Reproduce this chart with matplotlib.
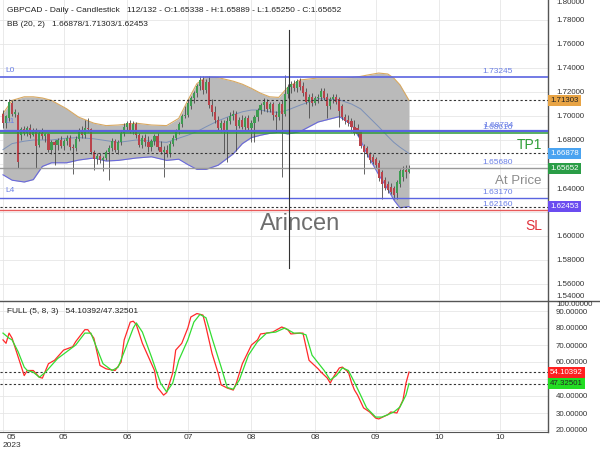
import numpy as np
import matplotlib
matplotlib.use("Agg")
import matplotlib.pyplot as plt
import matplotlib.ticker as mticker
from matplotlib.lines import Line2D

plt.rcParams['font.family'] = ['Liberation Sans', 'DejaVu Sans']

# ----------------------------- DATA -----------------------------------
opens = [1.702, 1.694, 1.698, 1.711, 1.702, 1.701, 1.684, 1.689, 1.686, 1.690,
         1.684, 1.688, 1.676, 1.686, 1.683, 1.685, 1.672, 1.678, 1.676, 1.680,
         1.675, 1.679, 1.682, 1.674, 1.673, 1.681, 1.688, 1.684, 1.690, 1.689,
         1.670, 1.664, 1.667, 1.663, 1.665, 1.670, 1.673, 1.679, 1.672, 1.678,
         1.686, 1.691, 1.694, 1.688, 1.693, 1.684, 1.676, 1.682, 1.678, 1.674,
         1.679, 1.683, 1.674, 1.670, 1.672, 1.668, 1.677, 1.682, 1.687, 1.693,
         1.700, 1.701, 1.708, 1.715, 1.719, 1.725, 1.730, 1.722, 1.728, 1.709,
         1.703, 1.697, 1.690, 1.694, 1.688, 1.696, 1.700, 1.702, 1.692, 1.697,
         1.691, 1.698, 1.690, 1.694, 1.699, 1.705, 1.709, 1.712, 1.706, 1.710,
         1.701, 1.699, 1.710, 1.702, 1.718, 1.724, 1.727, 1.723, 1.729, 1.725,
         1.720, 1.712, 1.716, 1.711, 1.715, 1.716, 1.721, 1.716, 1.708, 1.714,
         1.716, 1.714, 1.708, 1.699, 1.697, 1.696, 1.691, 1.690, 1.687, 1.675,
         1.673, 1.668, 1.666, 1.664, 1.661, 1.653, 1.647, 1.643, 1.641, 1.640,
         1.636, 1.643, 1.649, 1.655, 1.65338]
highs = [1.705, 1.701, 1.714, 1.713, 1.706, 1.703, 1.691, 1.692, 1.692, 1.693,
         1.690, 1.690, 1.688, 1.690, 1.686, 1.686, 1.680, 1.680, 1.682, 1.683,
         1.681, 1.684, 1.684, 1.677, 1.683, 1.690, 1.692, 1.697, 1.698, 1.690,
         1.672, 1.669, 1.669, 1.667, 1.672, 1.676, 1.682, 1.681, 1.680, 1.688,
         1.694, 1.696, 1.697, 1.696, 1.695, 1.686, 1.684, 1.685, 1.683, 1.681,
         1.685, 1.686, 1.679, 1.675, 1.676, 1.679, 1.684, 1.689, 1.695, 1.702,
         1.708, 1.714, 1.717, 1.721, 1.727, 1.733, 1.733, 1.731, 1.733, 1.714,
         1.708, 1.700, 1.697, 1.697, 1.699, 1.703, 1.705, 1.704, 1.699, 1.701,
         1.700, 1.701, 1.697, 1.701, 1.707, 1.711, 1.715, 1.714, 1.712, 1.712,
         1.704, 1.712, 1.713, 1.734, 1.727, 1.729, 1.730, 1.731, 1.732, 1.728,
         1.723, 1.718, 1.719, 1.717, 1.718, 1.723, 1.723, 1.719, 1.716, 1.718,
         1.718, 1.716, 1.710, 1.702, 1.701, 1.698, 1.697, 1.693, 1.688, 1.677,
         1.675, 1.670, 1.668, 1.666, 1.663, 1.655, 1.649, 1.646, 1.644, 1.642,
         1.647, 1.656, 1.658, 1.659, 1.65889]
lows = [1.690, 1.690, 1.696, 1.700, 1.699, 1.657, 1.680, 1.684, 1.683, 1.682,
        1.683, 1.657, 1.674, 1.681, 1.678, 1.670, 1.668, 1.659, 1.672, 1.673,
        1.672, 1.676, 1.672, 1.652, 1.671, 1.679, 1.682, 1.682, 1.687, 1.668,
        1.655, 1.660, 1.661, 1.654, 1.663, 1.647, 1.671, 1.670, 1.668, 1.676,
        1.683, 1.688, 1.686, 1.685, 1.682, 1.674, 1.673, 1.675, 1.670, 1.671,
        1.676, 1.672, 1.668, 1.649, 1.666, 1.666, 1.675, 1.680, 1.685, 1.691,
        1.698, 1.699, 1.706, 1.711, 1.716, 1.722, 1.718, 1.719, 1.707, 1.700,
        1.694, 1.688, 1.687, 1.669, 1.662, 1.693, 1.697, 1.671, 1.690, 1.689,
        1.688, 1.688, 1.678, 1.678, 1.696, 1.702, 1.704, 1.703, 1.703, 1.697,
        1.687, 1.697, 1.649, 1.700, 1.715, 1.719, 1.721, 1.720, 1.722, 1.717,
        1.710, 1.698, 1.708, 1.709, 1.711, 1.713, 1.713, 1.698, 1.706, 1.711,
        1.710, 1.691, 1.697, 1.693, 1.692, 1.687, 1.684, 1.683, 1.673, 1.652,
        1.666, 1.661, 1.660, 1.657, 1.646, 1.631, 1.638, 1.636, 1.635, 1.631,
        1.631, 1.641, 1.646, 1.648, 1.65250]
closes = [1.694, 1.700, 1.712, 1.702, 1.703, 1.662, 1.689, 1.686, 1.690, 1.684,
          1.688, 1.675, 1.686, 1.683, 1.685, 1.672, 1.678, 1.676, 1.680, 1.675,
          1.679, 1.682, 1.674, 1.673, 1.681, 1.688, 1.684, 1.690, 1.689, 1.670,
          1.664, 1.667, 1.663, 1.665, 1.670, 1.673, 1.679, 1.672, 1.678, 1.686,
          1.691, 1.694, 1.688, 1.693, 1.684, 1.676, 1.682, 1.678, 1.674, 1.679,
          1.683, 1.674, 1.670, 1.672, 1.668, 1.677, 1.682, 1.687, 1.693, 1.700,
          1.701, 1.711, 1.715, 1.719, 1.725, 1.730, 1.722, 1.728, 1.709, 1.703,
          1.697, 1.690, 1.694, 1.688, 1.696, 1.700, 1.702, 1.692, 1.697, 1.691,
          1.698, 1.690, 1.694, 1.699, 1.705, 1.709, 1.712, 1.706, 1.710, 1.701,
          1.699, 1.710, 1.702, 1.718, 1.724, 1.727, 1.723, 1.729, 1.724, 1.719,
          1.712, 1.716, 1.711, 1.715, 1.716, 1.721, 1.715, 1.708, 1.714, 1.716,
          1.712, 1.704, 1.699, 1.696, 1.694, 1.691, 1.686, 1.685, 1.675, 1.670,
          1.668, 1.663, 1.662, 1.659, 1.648, 1.643, 1.640, 1.638, 1.637, 1.634,
          1.645, 1.654, 1.6553, 1.6535, 1.65652]

# Bollinger band (20, 2)
bb_idx = [0, 3, 7, 10, 13, 16, 21, 25, 30, 34, 38, 44, 49, 54, 58, 61, 64, 67, 71,
          76, 79, 82, 85, 88, 91, 94, 98, 104, 111, 115, 118, 120, 124, 127, 129,
          131, 134]
bb_upper = [1.702, 1.713, 1.716, 1.716, 1.715, 1.713, 1.706, 1.699, 1.694, 1.692,
            1.6925, 1.694, 1.6925, 1.692, 1.698, 1.713, 1.727, 1.7325, 1.732,
            1.729, 1.7265, 1.723, 1.719, 1.716, 1.7155, 1.724, 1.730, 1.7317,
            1.7317, 1.732, 1.733, 1.734, 1.7358, 1.735, 1.7315, 1.726, 1.71303]
bb_mid = [1.672, 1.677, 1.679, 1.680, 1.680, 1.680, 1.6815, 1.682, 1.681, 1.6795,
          1.678, 1.680, 1.679, 1.678, 1.6815, 1.684, 1.687, 1.691, 1.696, 1.701,
          1.7035, 1.705, 1.705, 1.7035, 1.703, 1.705, 1.709, 1.7145, 1.7135,
          1.710, 1.706, 1.701, 1.691, 1.683, 1.678, 1.674, 1.66878]
bb_lower = [1.651, 1.6465, 1.645, 1.647, 1.658, 1.661, 1.661, 1.6633, 1.665,
            1.6625, 1.663, 1.665, 1.666, 1.663, 1.664, 1.6595, 1.6555, 1.6555,
            1.659, 1.6685, 1.677, 1.682, 1.684, 1.6855, 1.6865, 1.685, 1.687,
            1.695, 1.6995, 1.693, 1.680, 1.669, 1.651, 1.639, 1.630, 1.6235,
            1.62453]

# Stochastic FULL (5, 8, 3)
k_idx = [0, 1, 2, 3, 5, 7, 8, 10, 12, 13, 15, 17, 18, 20, 23, 24, 27, 28, 30, 32,
         34, 37, 39, 40, 42, 43, 44, 46, 50, 51, 53, 54, 56, 57, 59, 61, 62, 64,
         66, 67, 69, 71, 72, 74, 76, 77, 79, 82, 84, 85, 87, 89, 92, 94, 95, 98,
         99, 101, 104, 105, 107, 108, 109, 111, 112, 114, 115, 116, 117, 119,
         121, 123, 124, 127, 128, 130, 132, 133, 134]
k_val = [73, 71, 77, 74, 63, 52, 55, 55, 51, 50.5, 59, 61, 63, 67, 69, 72, 79, 79,
         74, 58, 56, 55, 60, 73, 83.5, 84, 82, 71, 55, 45, 40.5, 42, 53.5, 67, 71,
         80, 86.5, 88.5, 87.6, 80.6, 65, 53.5, 46.5, 44.7, 43.5, 47.6, 59, 70, 73,
         76.5, 77, 77.6, 80.6, 79, 76.5, 77, 77, 61, 56, 54, 50.6, 47.6, 51, 56.5,
         57, 54, 48, 43.5, 40.6, 33, 30.6, 27, 26.5, 29, 30.6, 30, 37.6, 47.6,
         54.10392]
d_idx = [0, 2, 3, 5, 7, 8, 10, 12, 14, 16, 18, 21, 24, 27, 29, 31, 33, 36, 38, 40,
         43, 44, 46, 49, 52, 54, 56, 58, 61, 63, 65, 67, 69, 72, 74, 76, 78, 81,
         84, 87, 90, 93, 96, 98, 100, 102, 106, 108, 110, 112, 114, 116, 118, 120,
         123, 125, 127, 129, 131, 133, 134]
d_val = [77, 74, 73, 66, 57, 55, 54, 51, 54, 58, 62, 66, 70, 77, 77, 68, 59, 55, 57,
         66, 80, 83, 77.6, 63, 47.6, 42.4, 47.6, 61, 73, 83.5, 88, 86, 74, 57, 45,
         44, 49.4, 64, 72, 77, 77.6, 80, 77, 77, 76, 64, 55, 49.4, 52, 56.5, 55,
         48, 40.6, 33, 27.6, 27.6, 29, 30.6, 33.5, 40.6, 47.32501]

# levels drawn on the chart
level_names = ["L0", "L1", "TP1", "At Price", "L4", "SL"]
level_values = [1.73245, 1.68734, 1.68616, 1.65680, 1.63170, 1.62160]
grid_idx = [0, 20, 41, 61, 82, 103, 123, 144, 164]
date_labels = ["05", "05", "06", "07", "08", "08", "09", "10", "10"]
price_ticks = [1.56, 1.58, 1.60, 1.62, 1.64, 1.66, 1.68, 1.70, 1.72, 1.74, 1.76, 1.78]
stoch_ticks = [20, 30, 40, 50, 60, 70, 80, 90]
hidden_ticks = [1.62, 1.66, 50]   # covered by the value tags in the original

# ------------------------- FIGURE SETTINGS ----------------------------
W, H = 600, 450
PX = 3.03  # pixels per bar
X_LEFT = -3 / PX
X_RIGHT = (548 - 3) / PX

fig = plt.figure(figsize=(6, 4.5), dpi=100)
ax = fig.add_axes([0, 150 / H, 548 / W, 300 / H])
ax2 = fig.add_axes([0, 18 / H, 548 / W, 131 / H])

GRID = "#e6e6e6"
TXT = "#333333"
BLUE_LVL = "#5a64e0"
LBL_BLUE = "#6a7fe6"


def tick_fmt(v, pos):
    if any(abs(v - h) < 1e-6 for h in hidden_ticks):
        return ""
    return f"{v:.5f}"


for a in (ax, ax2):
    a.set_xlim(X_LEFT, X_RIGHT)
    a.set_xticks(grid_idx)
    a.set_xticklabels([])
    a.tick_params(axis="x", length=0)
    a.yaxis.tick_right()
    a.tick_params(axis="y", length=0, pad=5.8, labelsize=5.7, labelcolor=TXT)
    a.yaxis.set_major_formatter(mticker.FuncFormatter(tick_fmt))
    a.grid(True, color=GRID, lw=0.6, zorder=0)
    a.set_axisbelow(True)
    for s in ("top", "left"):
        a.spines[s].set_visible(False)
    a.spines["right"].set_color("#555555")
    a.spines["right"].set_linewidth(1.0)
    a.set_facecolor("white")

ax.spines["bottom"].set_visible(False)
ax2.spines["bottom"].set_color("#555555")

# ---------------------------- PRICE PANEL -----------------------------
ax.set_ylim(1.78 - 280 / 1200, 1.78 + 20 / 1200)
ax.set_yticks(price_ticks)

ax.fill_between(bb_idx, bb_lower, bb_upper, color="#bababa", lw=0, zorder=1)
ax.plot(bb_idx, bb_upper, color="#d8a860", lw=0.8, zorder=2)
ax.plot(bb_idx, bb_lower, color="#6868dc", lw=0.8, zorder=2)
ax.plot(bb_idx, bb_mid, color="#7b90b8", lw=0.7, zorder=2)

idx = np.arange(len(closes))
o = np.array(opens); c = np.array(closes)
hi = np.array(highs); lo = np.array(lows)
up = c >= o
ax.vlines(idx, lo, hi, color="#4a4a4a", lw=0.6, zorder=3)
body_bot = np.minimum(o, c)
body_h = np.maximum(np.abs(c - o), 0.0004)
ax.bar(idx[up], body_h[up], bottom=body_bot[up], width=0.7,
       color="#3e9c52", lw=0, zorder=4)
ax.bar(idx[~up], body_h[~up], bottom=body_bot[~up], width=0.7,
       color="#b9434b", lw=0, zorder=4)

level_styles = {
    "L0": (BLUE_LVL, 1.2), "L1": (BLUE_LVL, 1.6), "TP1": ("#2e9a3a", 1.1),
    "At Price": ("#9a9a9a", 1.0), "L4": (BLUE_LVL, 1.0), "SL": ("#e85a5a", 1.0),
}
for name, val in zip(level_names, level_values):
    col, lw = level_styles[name]
    ax.axhline(val, color=col, lw=lw, zorder=5)
    ax.text((498 - 3) / PX, val + 0.0015, f"{val:.5f}", color=LBL_BLUE,
            fontsize=6, ha="center", va="bottom", zorder=6)

ax.text(0.66, 1.7375, "L0", color=LBL_BLUE, fontsize=6, va="center", zorder=6)
ax.text(0.66, 1.6958, "L1", color=LBL_BLUE, fontsize=6, va="center", zorder=6)
ax.text(0.66, 1.6383, "L4", color=LBL_BLUE, fontsize=6, va="center", zorder=6)

xr = (542 - 3) / PX
ax.text(xr, 1.6758, "TP1", color="#2e9e36", fontsize=10, ha="right", va="center")
ax.text(xr, 1.6462, "At Price", color="#8c8c8c", fontsize=9.5, ha="right", va="center")
ax.text(xr, 1.60875, "SL", color="#e0303a", fontsize=10, ha="right", va="center")

# current band values, dotted
for v in (bb_upper[-1], bb_mid[-1], bb_lower[-1]):
    ax.axhline(v, color="#333333", lw=0.8, ls=(0, (2, 2)), zorder=5)

ax.text((300 - 3) / PX, 1.61, "Arincen", color="#6e6e6e", fontsize=17,
        ha="center", va="center", zorder=7)
ax.axvline((289 - 3) / PX, ymin=0.107, ymax=0.9, color="#333333", lw=0.8, zorder=8)

tags = [(bb_upper[-1], "#e8a445", "#222222"), (bb_mid[-1], "#4aa3f0", "white"),
        (closes[-1], "#2a9d46", "white"), (bb_lower[-1], "#6b4cf0", "white")]
for v, fc, tc in tags:
    ax.text(1.004, v, f"{v:.5f}", transform=ax.get_yaxis_transform(), fontsize=5.7,
            color=tc, ha="left", va="center", zorder=10, clip_on=False,
            bbox=dict(boxstyle="square,pad=0.25", fc=fc, ec="none"))

# -------------------------- STOCHASTIC PANEL --------------------------
ax2.set_ylim(90 - 121 / 1.7, 90 + 10 / 1.7)
ax2.set_yticks(stoch_ticks)
ax2.plot(k_idx, k_val, color="#ff2a2a", lw=0.9, zorder=3)
ax2.plot(d_idx, d_val, color="#33dd33", lw=0.9, zorder=3)
for v in (k_val[-1], d_val[-1]):
    ax2.axhline(v, color="#333333", lw=0.8, ls=(0, (2, 2)), zorder=2)
for v, fc, tc in [(k_val[-1], "#ff2020", "white"), (d_val[-1], "#22dd22", "#222222")]:
    ax2.text(1.004, v, f"{v:.5f}", transform=ax2.get_yaxis_transform(), fontsize=5.7,
             color=tc, ha="left", va="center", zorder=10, clip_on=False,
             bbox=dict(boxstyle="square,pad=0.25", fc=fc, ec="none"))

label_pos = list(grid_idx)
label_pos[0] = (11.5 - 3) / PX
for xp, lab in zip(label_pos, date_labels):
    ax2.text(xp, -0.04, lab, transform=ax2.get_xaxis_transform(), fontsize=6,
             color=TXT, ha="center", va="center", clip_on=False)
ax2.text(label_pos[0], -0.1, "2023", transform=ax2.get_xaxis_transform(),
         fontsize=6, color=TXT, ha="center", va="center", clip_on=False)

# ------------------------------ HEADERS -------------------------------
fig.text(7 / W, 1 - 11 / H,
         "GBPCAD - Daily - Candlestick   112/132 - O:1.65338 - H:1.65889 - "
         "L:1.65250 - C:1.65652", fontsize=6, color="#222222", va="center")
fig.text(7 / W, 1 - 25 / H, "BB (20, 2)   1.66878/1.71303/1.62453",
         fontsize=6, color="#222222", va="center")
fig.text(7 / W, 1 - 311.5 / H, "FULL (5, 8, 3)   54.10392/47.32501",
         fontsize=6, color="#222222", va="center")

# clamped edge labels of the value axes
fig.text(556 / W, 1 - 2 / H, "1.80000", fontsize=5.7, color=TXT, va="center")
fig.text(556 / W, 1 - 296 / H, "1.54000", fontsize=5.7, color=TXT, va="center")
fig.text(556 / W, 1 - 304 / H, "100.00000", fontsize=5.7, color=TXT, va="center")

fig.add_artist(Line2D([0, 1], [1 - 300.5 / H, 1 - 300.5 / H], color="#555555",
                      lw=1.0, transform=fig.transFigure))

fig.savefig("out.png", dpi=100)
